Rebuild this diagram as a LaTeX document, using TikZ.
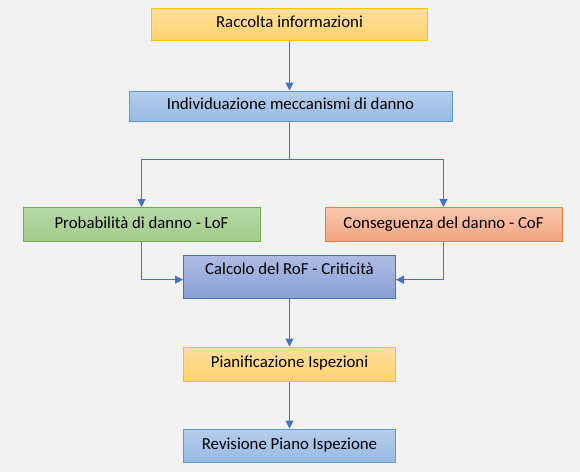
\documentclass[tikz,border=0pt]{standalone}
\usepackage{fontspec}
\setmainfont{Carlito}
\usetikzlibrary{arrows.meta}

\definecolor{bg}{HTML}{F2F2F2}
\definecolor{link}{HTML}{4472C4}
\definecolor{goldline}{HTML}{FFC000}
\definecolor{goldtop}{HTML}{FFDE9E}
\definecolor{goldbot}{HTML}{FFD36C}
\definecolor{blueline}{HTML}{5B9BD5}
\definecolor{bluetop}{HTML}{B4CEEC}
\definecolor{bluebot}{HTML}{98BAE3}
\definecolor{greenline}{HTML}{70AD47}
\definecolor{greentop}{HTML}{B7D8A8}
\definecolor{greenbot}{HTML}{A2CB8B}
\definecolor{orangeline}{HTML}{ED7D31}
\definecolor{orangetop}{HTML}{F9C8B0}
\definecolor{orangebot}{HTML}{F4A37F}
\definecolor{rofline}{HTML}{4472C4}
\definecolor{roftop}{HTML}{AEBCE3}
\definecolor{rofbot}{HTML}{8AA0D6}

\begin{document}
\begin{tikzpicture}[x=0.75pt, y=-0.75pt, font=\fontsize{12.6}{15}\selectfont,
  box/.style={draw, line width=0.75pt, inner sep=0pt, text=black,
    text height=1.6ex, text depth=0.45ex},
  gold/.style={box, draw=goldline, top color=goldtop, bottom color=goldbot},
  blue/.style={box, draw=blueline, top color=bluetop, bottom color=bluebot},
  green/.style={box, draw=greenline, top color=greentop, bottom color=greenbot},
  orange/.style={box, draw=orangeline, top color=orangetop, bottom color=orangebot},
  rof/.style={box, draw=rofline, top color=roftop, bottom color=rofbot},
  link/.style={draw=link, line width=0.75pt},
  arrow/.style={link, -{Triangle[length=6pt, width=6pt]}}]

\fill[bg] (0, 0) rectangle (580, 472);

\node[gold, minimum width=207pt, minimum height=24pt] (info) at (289.5, 24) {Raccolta informazioni};
\node[blue, minimum width=242.25pt, minimum height=22.5pt] (mech) at (290.5, 106) {Individuazione meccanismi di danno};
\node[green, minimum width=177.75pt, minimum height=25.5pt] (lof) at (141.5, 224.5) {Probabilità di danno - LoF};
\node[orange, minimum width=177.75pt, minimum height=25.5pt] (cof) at (443.5, 224.5) {Conseguenza del danno - CoF};
\node[rof, minimum width=159pt, minimum height=32.25pt, text depth=0.45ex+8pt] (rof) at (289.5, 276.5) {Calcolo del RoF - Criticità};
\node[gold, minimum width=159pt, minimum height=25.5pt] (plan) at (289.5, 364) {Pianificazione Ispezioni};
\node[blue, minimum width=159pt, minimum height=24.75pt] (rev) at (289.5, 445.5) {Revisione Piano Ispezione};

\coordinate (split) at (info.south |- 0, 159);
\coordinate (lofin) at ([yshift=-2.4pt]rof.west);
\coordinate (cofin) at ([yshift=-2.4pt]rof.east);

\draw[arrow] (info) -- (info |- mech.north);
\draw[link] (info |- mech.south) -- (split);
\draw[arrow] (split) -| (lof);
\draw[arrow] (split) -| (cof);
\draw[arrow] (lof) |- (lofin);
\draw[arrow] (cof) |- (cofin);
\draw[arrow] (rof) -- (plan);
\draw[arrow] (plan) -- (rev);
\end{tikzpicture}
\end{document}
